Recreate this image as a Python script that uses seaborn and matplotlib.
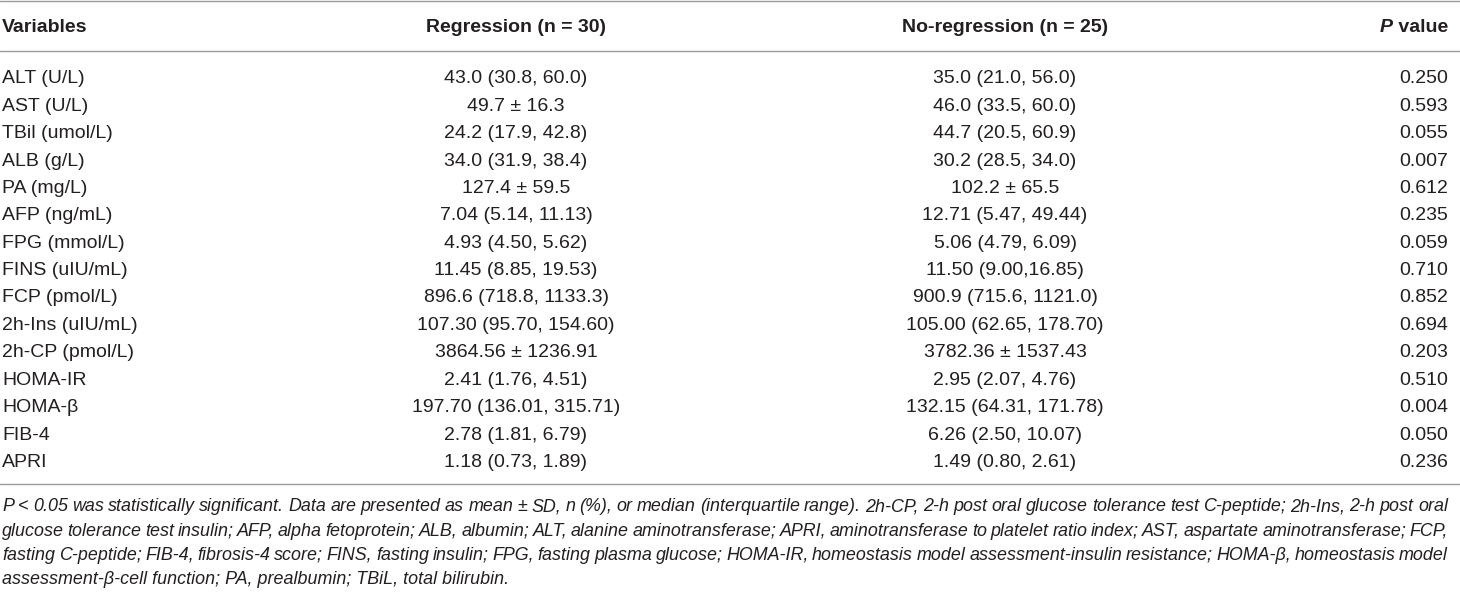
import numpy as np
import pandas as pd
import matplotlib
matplotlib.use("Agg")
import matplotlib.pyplot as plt
import seaborn as sns

# -----------------------------
# table contents
# -----------------------------
variables = ["ALT (U/L)", "AST (U/L)", "TBil (umol/L)", "ALB (g/L)", "PA (mg/L)",
             "AFP (ng/mL)", "FPG (mmol/L)", "FINS (uIU/mL)", "FCP (pmol/L)",
             "2h-Ins (uIU/mL)", "2h-CP (pmol/L)", "HOMA-IR", "HOMA-\u03b2",
             "FIB-4", "APRI"]
regression = ["43.0 (30.8, 60.0)", "49.7 \u00b1 16.3", "24.2 (17.9, 42.8)",
              "34.0 (31.9, 38.4)", "127.4 \u00b1 59.5", "7.04 (5.14, 11.13)",
              "4.93 (4.50, 5.62)", "11.45 (8.85, 19.53)", "896.6 (718.8, 1133.3)",
              "107.30 (95.70, 154.60)", "3864.56 \u00b1 1236.91", "2.41 (1.76, 4.51)",
              "197.70 (136.01, 315.71)", "2.78 (1.81, 6.79)", "1.18 (0.73, 1.89)"]
no_regression = ["35.0 (21.0, 56.0)", "46.0 (33.5, 60.0)", "44.7 (20.5, 60.9)",
                 "30.2 (28.5, 34.0)", "102.2 \u00b1 65.5", "12.71 (5.47, 49.44)",
                 "5.06 (4.79, 6.09)", "11.50 (9.00,16.85)", "900.9 (715.6, 1121.0)",
                 "105.00 (62.65, 178.70)", "3782.36 \u00b1 1537.43", "2.95 (2.07, 4.76)",
                 "132.15 (64.31, 171.78)", "6.26 (2.50, 10.07)", "1.49 (0.80, 2.61)"]
p_values = ["0.250", "0.593", "0.055", "0.007", "0.612", "0.235", "0.059", "0.710",
            "0.852", "0.694", "0.203", "0.510", "0.004", "0.050", "0.236"]

headers = ["Variables", "Regression (n = 30)", "No-regression (n = 25)", "value"]

footnote = [
    "P < 0.05 was statistically significant. Data are presented as mean \u00b1 SD, n (%), or median (interquartile range). 2h-CP, 2-h post oral glucose tolerance test C-peptide; 2h-Ins, 2-h post oral",
    "glucose tolerance test insulin; AFP, alpha fetoprotein; ALB, albumin; ALT, alanine aminotransferase; APRI, aminotransferase to platelet ratio index; AST, aspartate aminotransferase; FCP,",
    "fasting C-peptide; FIB-4, fibrosis-4 score; FINS, fasting insulin; FPG, fasting plasma glucose; HOMA-IR, homeostasis model assessment-insulin resistance; HOMA-\u03b2, homeostasis model",
    "assessment-\u03b2-cell function; PA, prealbumin; TBiL, total bilirubin.",
]

df = pd.DataFrame({"var": variables, "reg": regression,
                   "noreg": no_regression, "p": p_values})

# -----------------------------
# style
# -----------------------------
sns.set_theme(style="white")
plt.rcParams["font.family"] = ["Liberation Sans", "DejaVu Sans"]

W, H = 1460, 594
txt_col = "#231f20"
rule_col = "#9a9a9a"
fs = 14.0
fs_note = 12.85

fig = plt.figure(figsize=(W / 100, H / 100), dpi=100)
ax = fig.add_axes([0, 0, 1, 1])
ax.set_xlim(0, W)
ax.set_ylim(H, 0)
ax.axis("off")

# column anchors (pixels)
x_var, x_reg, x_noreg, x_p = 2, 516, 1005, 1448

# rules
for y in [1, 51, 484]:
    ax.axhline(y, color=rule_col, lw=1.0)

# header
hy = 32.5
ax.text(x_var, hy, headers[0], fontsize=fs, fontweight="bold", color=txt_col, ha="left", va="baseline")
ax.text(x_reg, hy, headers[1], fontsize=fs, fontweight="bold", color=txt_col, ha="center", va="baseline")
ax.text(x_noreg, hy, headers[2], fontsize=fs, fontweight="bold", color=txt_col, ha="center", va="baseline")
tv = ax.text(x_p, hy, " " + headers[3], fontsize=fs, fontweight="bold", color=txt_col, ha="right", va="baseline")

fig.canvas.draw()
renderer = fig.canvas.get_renderer()
wv = tv.get_window_extent(renderer).width
ax.text(x_p - wv, hy, "P", fontsize=fs, fontweight="bold", fontstyle="italic",
        color=txt_col, ha="right", va="baseline")

# body rows
y0, dy = 83.3, 27.4
for i, row in df.iterrows():
    y = y0 + i * dy
    ax.text(x_var, y, row["var"], fontsize=fs, color=txt_col, ha="left", va="baseline")
    ax.text(x_reg, y, row["reg"], fontsize=fs, color=txt_col, ha="center", va="baseline")
    ax.text(x_noreg, y, row["noreg"], fontsize=fs, color=txt_col, ha="center", va="baseline")
    ax.text(x_p, y, row["p"], fontsize=fs, color=txt_col, ha="right", va="baseline")

# footnote, justified except last line
fy0, fdy = 511, 24.5
for j, line in enumerate(footnote):
    y = fy0 + j * fdy
    if j == len(footnote) - 1:
        ax.text(x_var, y, line, fontsize=fs_note, fontstyle="italic", color=txt_col,
                ha="left", va="baseline")
        continue
    words = line.split(" ")
    objs = [ax.text(0, y, w_, fontsize=fs_note, fontstyle="italic", color=txt_col,
                    ha="left", va="baseline") for w_ in words]
    fig.canvas.draw()
    widths = [o.get_window_extent(renderer).width for o in objs]
    gap = (x_p - x_var - sum(widths)) / (len(words) - 1)
    x = x_var
    for o, w_ in zip(objs, widths):
        o.set_x(x)
        x += w_ + gap

fig.savefig("out.png", dpi=100)
